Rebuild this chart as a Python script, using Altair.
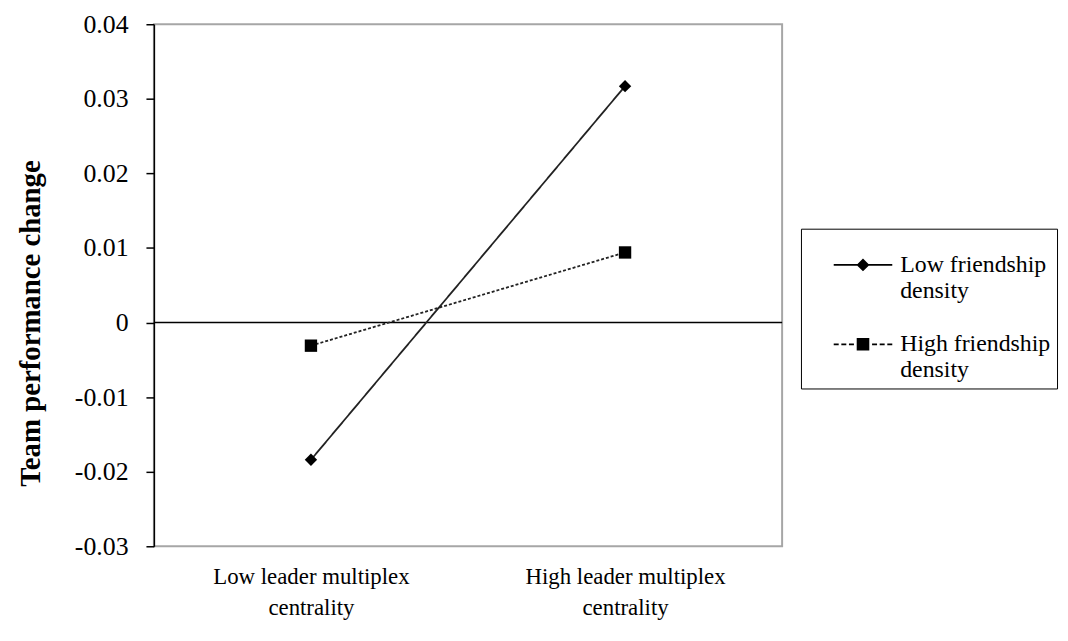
import altair as alt
import pandas as pd

categories = ["Low leader multiplex centrality", "High leader multiplex centrality"]
series_names = ["Low friendship density", "High friendship density"]
low_friendship = [-0.0184, 0.0317]
high_friendship = [-0.0031, 0.0094]
y_ticks = [-0.03, -0.02, -0.01, 0, 0.01, 0.02, 0.03, 0.04]
zero_line = [0]

rows = []
for name, vals in zip(series_names, [low_friendship, high_friendship]):
    for c, v in zip(categories, vals):
        rows.append({"centrality": c, "series": name, "value": v})
df = pd.DataFrame(rows)

FONT = "Liberation Serif"


def bar(a, b, t=0.03):
    # thin filled rectangle from x=a to x=b (clockwise), used as a line segment
    return f"M{a},{-t}L{b},{-t}L{b},{t}L{a},{t}Z"


diamond_path = bar(-1, 1) + "M0,-0.22L0.22,0L0,0.22L-0.22,0Z"
square_path = (
    bar(-1, -0.83) + bar(-0.74, -0.57) + bar(-0.48, -0.31)
    + "M-0.215,-0.215L0.215,-0.215L0.215,0.215L-0.215,0.215Z"
    + bar(0.31, 0.48) + bar(0.57, 0.74) + bar(0.83, 1)
)

x_enc = alt.X(
    "centrality:N",
    sort=categories,
    scale=alt.Scale(type="point", domain=categories, padding=0.5),
    axis=alt.Axis(
        title=None,
        labelExpr="[slice(datum.label, 0, indexof(datum.label, ' centrality')), 'centrality']",
        labelFont=FONT, labelFontSize=23, labelColor="black", labelAngle=0,
        domain=False, ticks=False, labelPadding=20, labelLineHeight=31,
        labelLimit=400, labelOverlap=False,
    ),
)
y_scale = alt.Scale(domain=[-0.03, 0.04], nice=False)
y_enc = alt.Y(
    "value:Q",
    scale=y_scale,
    axis=alt.Axis(
        values=y_ticks,
        title="Team performance change",
        titleFont=FONT, titleFontSize=29, titleFontWeight="bold", titleColor="black",
        titleX=-124, titleY=301, titleAngle=270, titleAlign="center", titleBaseline="middle",
        labelExpr="abs(datum.value) < 1e-9 ? '0' : (datum.value < 0 ? '-' : '') + format(abs(datum.value), '.2f')",
        labelFont=FONT, labelFontSize=26, labelColor="black", labelPadding=18,
        tickSize=8, tickColor="black", tickWidth=1.5,
        domainColor="black", domainWidth=1.5, grid=False,
    ),
)

zero = alt.Chart(pd.DataFrame({"zero": zero_line})).mark_rule(
    color="black", strokeWidth=1.5
).encode(y=alt.Y("zero:Q", scale=y_scale))

lines = alt.Chart(df).mark_line(color="#222222", strokeWidth=1.8).encode(
    x=x_enc,
    y=y_enc,
    detail="series:N",
    strokeDash=alt.StrokeDash(
        "series:N",
        scale=alt.Scale(domain=series_names, range=[[1, 0], [3, 2]]),
        legend=None,
    ),
)

points = alt.Chart(df).mark_point(filled=True, color="black", size=155, opacity=1).encode(
    x=x_enc,
    y=y_enc,
    shape=alt.Shape(
        "series:N",
        scale=alt.Scale(domain=series_names, range=["diamond", "square"]),
        legend=None,
    ),
)

legend_layer = alt.Chart(df).mark_point(
    filled=True, fill="black", stroke="black", strokeWidth=1.5, opacity=0
).encode(
    x=x_enc,
    y=y_enc,
    shape=alt.Shape(
        "series:N",
        scale=alt.Scale(domain=series_names, range=[diamond_path, square_path]),
        legend=alt.Legend(
            title=None, orient="none", legendX=652, legendY=206, direction="vertical",
            labelExpr="[slice(datum.label, 0, indexof(datum.label, ' density')), 'density']",
            labelFont=FONT, labelFontSize=24, labelColor="black",
            labelBaseline="middle", labelLimit=400, labelOffset=7,
            symbolSize=3481, symbolFillColor="black", symbolStrokeColor="black",
            symbolStrokeWidth=1.5, symbolOpacity=1, rowPadding=11,
            strokeColor="black", padding=6, symbolOffset=26,
        ),
    ),
)

chart = (
    alt.layer(zero, lines, points, legend_layer)
    .resolve_scale(shape="independent")
    .properties(
        width=633, height=526,
        padding={"left": 147, "top": 14, "right": 280, "bottom": 85},
        autosize=alt.AutoSizeParams(type="none"),
        background="white",
    )
    .configure(font=FONT)
    .configure_view(stroke="#a6a6a6", strokeWidth=2)
)

chart.save("out.html", embed_options={"renderer": "svg", "actions": False})
